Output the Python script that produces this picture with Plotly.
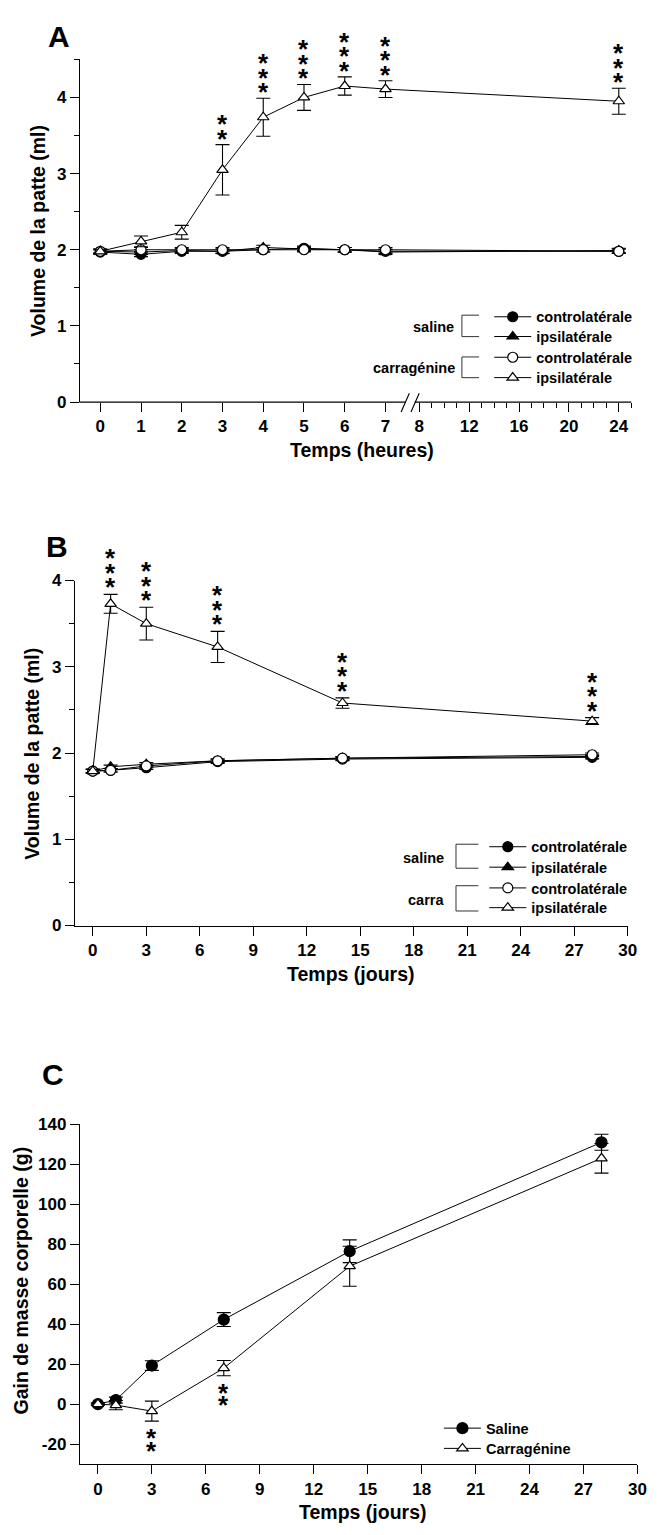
import plotly.graph_objects as go

W, H = 659, 1535
FONT = "Liberation Sans, Arial, Helvetica, sans-serif"


def px(x):
    return x / W


def py(y):
    return 1 - y / H


# ---------------- DATA ----------------
# Panel A (hours)
hours_A = [0, 1, 2, 3, 4, 5, 6, 7, 24]
sal_contra_A = [1.97, 1.94, 1.98, 1.98, 2.00, 2.02, 2.00, 1.98, 1.98]
sal_ipsi_A = [1.98, 1.97, 1.99, 1.98, 2.03, 2.01, 2.00, 1.97, 1.99]
car_contra_A = [1.98, 2.00, 2.00, 2.00, 2.00, 2.00, 2.00, 2.00, 1.98]
car_ipsi_A = [1.98, 2.11, 2.23, 3.05, 3.74, 4.00, 4.15, 4.11, 3.95]
small_err_A = [0.03, 0.03, 0.03, 0.03, 0.03, 0.03, 0.03, 0.03, 0.03]
car_ipsi_A_err = [0.02, 0.07, 0.09, 0.33, 0.25, 0.17, 0.12, 0.11, 0.17]
stars_A = [0, 0, 0, 2, 3, 3, 3, 3, 3]
xticks_A = [0, 1, 2, 3, 4, 5, 6, 7, 8, 12, 16, 20, 24]
xminor_A = [9, 10, 11, 13, 14, 15, 17, 18, 19, 21, 22, 23, 25]

# Panel B (days)
days_B = [0, 1, 3, 7, 14, 28]
sal_contra_B = [1.79, 1.80, 1.83, 1.90, 1.93, 1.95]
sal_ipsi_B = [1.79, 1.84, 1.87, 1.91, 1.94, 1.96]
car_contra_B = [1.79, 1.80, 1.85, 1.91, 1.94, 1.98]
car_ipsi_B = [1.79, 3.73, 3.50, 3.23, 2.58, 2.37]
small_err_B = [0.02, 0.02, 0.02, 0.02, 0.02, 0.02]
car_ipsi_B_err = [0.02, 0.11, 0.19, 0.18, 0.06, 0.04]
stars_B = [0, 3, 3, 3, 3, 3]

# Panel C (days)
days_C = [0, 1, 3, 7, 14, 28]
saline_C = [0.0, 2.0, 19.3, 42.3, 76.5, 131.0]
saline_C_err = [0.5, 1.5, 2.4, 3.5, 5.7, 4.0]
carra_C = [0.0, -0.5, -3.5, 18.0, 69.0, 123.0]
carra_C_err = [0.5, 2.3, 5.0, 3.8, 10.0, 7.4]
stars_C = [0, 0, 2, 2, 0, 0]
yticks_C = [-20, 0, 20, 40, 60, 80, 100, 120, 140]
yticklabels_C = ["-20", "0", "20", "40", "60", "80", "100", "120", "140"]
xticks_days = [0, 3, 6, 9, 12, 15, 18, 21, 24, 27, 30]

# ---------------- broken time scale for panel A ----------------
U8, K = 7.83, 0.306  # position of 8 h and compression after the break


def brk(t):
    return t if t <= 7.5 else U8 + (t - 8) * K


# ---------------- figure ----------------
fig = go.Figure()

LINE = dict(color="black", width=1)


def series(x, y, err, symbol, fill, name, xa, ya, leg, size=10, ew=7):
    return go.Scatter(
        x=x, y=y, mode="lines+markers", name=name,
        line=LINE,
        marker=dict(symbol=symbol, size=size, color=fill,
                    line=dict(color="black", width=1.2)),
        error_y=dict(type="data", array=err, color="black", thickness=1.1, width=ew),
        xaxis=xa, yaxis=ya, legend=leg, showlegend=True,
    )


xA = [brk(t) for t in hours_A]
fig.add_trace(series(xA, sal_contra_A, small_err_A, "circle", "black", "controlatérale", "x", "y", "legend", 10))
fig.add_trace(series(xA, sal_ipsi_A, small_err_A, "triangle-up", "black", "ipsilatérale", "x", "y", "legend2", 10))
fig.add_trace(series(xA, car_contra_A, small_err_A, "circle", "white", "controlatérale", "x", "y", "legend3", 10))
fig.add_trace(series(xA, car_ipsi_A, car_ipsi_A_err, "triangle-up", "white", "ipsilatérale", "x", "y", "legend4", 10))

fig.add_trace(series(days_B, sal_contra_B, small_err_B, "circle", "black", "controlatérale", "x2", "y2", "legend5", 10))
fig.add_trace(series(days_B, sal_ipsi_B, small_err_B, "triangle-up", "black", "ipsilatérale", "x2", "y2", "legend6", 10))
fig.add_trace(series(days_B, car_contra_B, small_err_B, "circle", "white", "controlatérale", "x2", "y2", "legend7", 10))
fig.add_trace(series(days_B, car_ipsi_B, car_ipsi_B_err, "triangle-up", "white", "ipsilatérale", "x2", "y2", "legend8", 10))

fig.add_trace(series(days_C, saline_C, saline_C_err, "circle", "black", "Saline", "x3", "y3", "legend9", 11))
fig.add_trace(series(days_C, carra_C, carra_C_err, "triangle-up", "white", "Carragénine", "x3", "y3", "legend10", 10))

# ---------------- axes ----------------
TF = dict(family=FONT, size=17, color="black", weight="bold")
common = dict(showgrid=False, zeroline=False, ticks="outside", ticklen=9, tickwidth=1.3,
              tickcolor="black", tickfont=TF, linecolor="black", linewidth=1.3)

fig.update_layout(
    xaxis=dict(domain=[px(81), px(640)], range=[-0.5, brk(25)], anchor="y", showline=False,
               tickmode="array", tickvals=[brk(t) for t in xticks_A],
               ticktext=[str(t) for t in xticks_A],
               minor=dict(tickmode="array", tickvals=[brk(t) for t in xminor_A], ticklen=5,
                          tickwidth=1.3, tickcolor="black", ticks="outside"),
               **common),
    yaxis=dict(domain=[py(398), py(51)], range=[0, 4.5], anchor="x", showline=True,
               tickmode="array", tickvals=[0, 1, 2, 3, 4],
               minor=dict(dtick=0.5, tick0=0, ticklen=5, tickwidth=1.3, tickcolor="black", ticks="outside"),
               **common),
    xaxis2=dict(domain=[px(76), px(636.5)], range=[-1, 30], anchor="y2", showline=True,
                tickmode="array", tickvals=xticks_days, **common),
    yaxis2=dict(domain=[py(928), py(578.7)], range=[0, 4], anchor="x2", showline=True,
                tickmode="array", tickvals=[0, 1, 2, 3, 4],
                minor=dict(dtick=0.5, tick0=0, ticklen=5, tickwidth=1.3, tickcolor="black", ticks="outside"),
                **common),
    xaxis3=dict(domain=[px(81), px(646.3)], range=[-1, 30], anchor="y3", showline=True,
                tickmode="array", tickvals=xticks_days, **common),
    yaxis3=dict(domain=[py(1473.3), py(1129.3)], range=[-30, 140], anchor="x3", showline=True,
                tickmode="array", tickvals=yticks_C, ticktext=yticklabels_C, **common),
)

# ---------------- legends ----------------
LF = dict(family=FONT, size=14.5, color="black", weight="bold")


def leg(xpx, ypx):
    return dict(x=px(xpx), y=py(ypx), xanchor="left", yanchor="middle", font=LF,
                bgcolor="rgba(0,0,0,0)", borderwidth=0, itemwidth=37, tracegroupgap=0)


legend_layout = {}
legA_y = [311.7, 331.7, 352.7, 373.3]
legB_y = [848.3, 869, 890, 910]
legC_y = [1437, 1457.5]
names = ["legend", "legend2", "legend3", "legend4", "legend5", "legend6", "legend7", "legend8",
         "legend9", "legend10"]
pos = [(496, y) for y in legA_y] + [(491, y) for y in legB_y] + [(445, y) for y in legC_y]
for n, (lx, ly) in zip(names, pos):
    legend_layout[n] = leg(lx, ly)
fig.update_layout(**legend_layout)

# ---------------- annotations ----------------
ann = []


def text(xpx, ypx, s, size, xanchor="center", angle=0):
    ann.append(dict(x=px(xpx), y=py(ypx), xref="paper", yref="paper", text=s, showarrow=False,
                    xanchor=xanchor, yanchor="middle", textangle=angle,
                    font=dict(family=FONT, size=size, color="black", weight="bold")))


# panel letters
text(60, 28, "A", 30)
text(57.5, 544, "B", 30)
text(53.5, 1079, "C", 30)
# axis titles
text(38.3, 225, "Volume de la patte (ml)", 19.5, angle=-90)
text(367.5, 447, "Temps (heures)", 19.5)
text(32.5, 754, "Volume de la patte (ml)", 19.5, angle=-90)
text(355, 977, "Temps (jours)", 19.5)
text(21.7, 1287, "Gain de masse corporelle (g)", 19.5, angle=-90)
text(368, 1522, "Temps (jours)", 19.5)
# legend group labels
text(462.3, 322.3, "saline", 14.5, xanchor="right")
text(463.3, 363.3, "carragénine", 14.5, xanchor="right")
text(452.3, 859.3, "saline", 14.5, xanchor="right")
text(452.3, 901.7, "carra", 14.5, xanchor="right")

# significance stars
STAR = dict(family=FONT, size=26, color="black", weight="bold")


def stars(xs, ys, errs, counts, xref, yref, above=True, base=7, step=14.5):
    for x, y, e, n in zip(xs, ys, errs, counts):
        for i in range(n):
            ann.append(dict(x=x, y=(y + e) if above else (y - e), xref=xref, yref=yref, text="*",
                            showarrow=False, xanchor="center", yanchor="middle",
                            yshift=(base + i * step) if above else (base - i * step), font=STAR))


stars(xA, car_ipsi_A, car_ipsi_A_err, stars_A, "x", "y", True, 6, 14.5)
stars(days_B, car_ipsi_B, car_ipsi_B_err, stars_B, "x2", "y2", True, 7, 14.5)
stars(days_C, carra_C, carra_C_err, stars_C, "x3", "y3", False, -17, 12.5)

fig.update_layout(annotations=ann)

# ---------------- shapes: broken axis + legend brackets ----------------
shapes = []


def seg(x0, y0, x1, y1, w=1.3, color="black"):
    shapes.append(dict(type="line", xref="paper", yref="paper", x0=px(x0), y0=py(y0),
                       x1=px(x1), y1=py(y1), line=dict(color=color, width=w)))


# panel A x-axis line with break
seg(80.4, 398, 411, 398)
seg(420.5, 398, 640, 398)
seg(406.7, 408, 415, 389, 1.1)
seg(416.7, 408, 425, 389, 1.1)

# brackets
for (bx, y0, y1, x1) in [(468.3, 310, 331.7, 485.7), (468.3, 352.3, 373.3, 485.7),
                         (462.3, 845.7, 870, 485), (462.3, 887.7, 913.3, 485)]:
    seg(bx, y0, bx, y1, 1, "#333333")
    seg(bx, y0, x1, y0, 1, "#333333")
    seg(bx, y1, x1, y1, 1, "#333333")

fig.update_layout(shapes=shapes)

fig.update_layout(width=W, height=H, margin=dict(l=0, r=0, t=0, b=0),
                  paper_bgcolor="white", plot_bgcolor="white",
                  font=dict(family=FONT, color="black"))

fig.write_html("out.html", config={"displayModeBar": False})
